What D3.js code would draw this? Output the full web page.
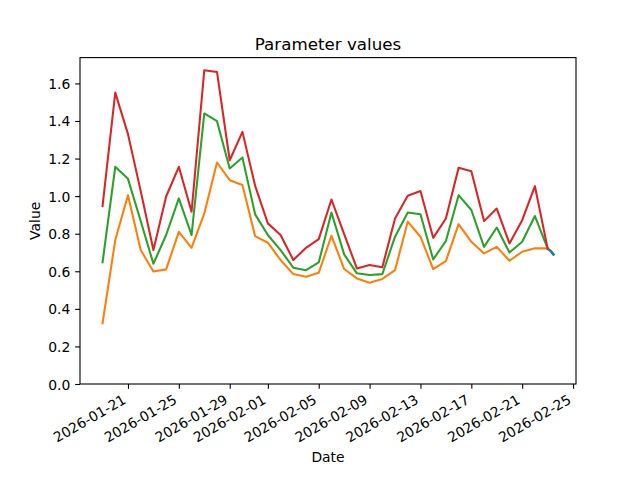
<!DOCTYPE html>
<html>
<head>
<meta charset="utf-8">
<script src="https://cdn.jsdelivr.net/npm/d3@7"></script>
<style>
  html, body { margin: 0; padding: 0; background: #fff; }
  svg { display: block; }
  svg text { font-family: "DejaVu Sans", sans-serif; }
</style>
</head>
<body>
<svg id="chart" width="640" height="480"></svg>
<script>
// ---- Data ----
const startDate = "2026-01-19";   // first daily value
const seriesRed = [0.947, 1.551, 1.330, 1.027, 0.713, 0.998, 1.156, 0.917, 1.670, 1.661,
  1.191, 1.342, 1.055, 0.855, 0.793, 0.660, 0.725, 0.771, 0.982, 0.798,
  0.615, 0.633, 0.621, 0.881, 1.002, 1.027, 0.778, 0.881, 1.151, 1.133,
  0.867, 0.934, 0.748, 0.872, 1.053, 0.722];
const seriesGreen = [0.647, 1.156, 1.092, 0.868, 0.640, 0.793, 0.988, 0.793, 1.440, 1.399,
  1.147, 1.206, 0.903, 0.793, 0.713, 0.619, 0.606, 0.647, 0.913, 0.690,
  0.589, 0.580, 0.585, 0.784, 0.913, 0.904, 0.663, 0.761, 1.005, 0.926,
  0.730, 0.833, 0.700, 0.757, 0.894, 0.722];
const seriesOrange = [0.323, 0.766, 1.005, 0.713, 0.599, 0.610, 0.810, 0.725, 0.908, 1.179,
  1.085, 1.059, 0.787, 0.752, 0.660, 0.585, 0.571, 0.592, 0.789, 0.612,
  0.562, 0.539, 0.559, 0.606, 0.864, 0.784, 0.612, 0.654, 0.851, 0.757,
  0.695, 0.730, 0.656, 0.704, 0.722, 0.722];
// hourly values starting 2026-02-23 00:00
const blueStart = "2026-02-23T00:00:00Z";
const seriesBlue = [0.720, 0.718, 0.716, 0.714, 0.712, 0.710, 0.707, 0.704, 0.700, 0.697, 0.693, 0.689];
const xTickLabels = ["2026-01-21","2026-01-25","2026-01-29","2026-02-01","2026-02-05",
  "2026-02-09","2026-02-13","2026-02-17","2026-02-21","2026-02-25"];
const yTicks = [0.0, 0.2, 0.4, 0.6, 0.8, 1.0, 1.2, 1.4, 1.6];
const titleText = "Parameter values";
const xLabelText = "Date";
const yLabelText = "Value";

// ---- Build records ----
const DAY = 86400000, HOUR = 3600000;
const t0 = new Date(startDate + "T00:00:00Z").getTime();
const daily = arr => arr.map((v, i) => ({ t: new Date(t0 + i * DAY), v }));
const b0 = new Date(blueStart).getTime();
const blueData = seriesBlue.map((v, i) => ({ t: new Date(b0 + i * HOUR), v }));
const series = [
  { data: blueData, color: "#1f77b4", width: 2.6 },
  { data: daily(seriesOrange), color: "#ff7f0e", width: 2.08 },
  { data: daily(seriesGreen), color: "#2ca02c", width: 2.08 },
  { data: daily(seriesRed), color: "#d62728", width: 2.08 }
];

// ---- Layout ----
const FONT = '"DejaVu Sans", sans-serif';
const svg = d3.select("#chart");
const L = 80, R = 576, T = 57.6, B = 384;

const allT = series.flatMap(s => s.data.map(d => d.t.getTime()));
const tmin = d3.min(allT), tmax = d3.max(allT);
const pad = (tmax - tmin) * 0.05;
const x = d3.scaleUtc().domain([new Date(tmin - pad), new Date(tmax + pad)]).range([L, R]);

const allV = series.flatMap(s => s.data.map(d => d.v));
const vmin = d3.min(allV), vmax = d3.max(allV);
const y = d3.scaleLinear().domain([0, vmax + 0.05 * (vmax - vmin)]).range([B, T]);

// clip
svg.append("defs").append("clipPath").attr("id", "clip")
  .append("rect").attr("x", L).attr("y", T).attr("width", R - L).attr("height", B - T);

// lines
const line = d3.line().x(d => x(d.t)).y(d => y(d.v));
const g = svg.append("g").attr("clip-path", "url(#clip)");
series.forEach(s => {
  g.append("path").datum(s.data)
    .attr("d", line)
    .attr("fill", "none")
    .attr("stroke", s.color)
    .attr("stroke-width", s.width)
    .attr("stroke-linejoin", "round")
    .attr("stroke-linecap", "square");
});

// axes
const xTickDates = xTickLabels.map(s => new Date(s + "T00:00:00Z"));
const xAxis = d3.axisBottom(x).tickValues(xTickDates).tickSize(4.86).tickPadding(0)
  .tickFormat(d3.utcFormat("%Y-%m-%d"));
const gx = svg.append("g").attr("transform", `translate(0,${B})`).call(xAxis)
  .attr("font-family", FONT).attr("font-size", 13.9);
gx.select(".domain").remove();
gx.selectAll(".tick line").attr("stroke", "#000").attr("stroke-width", 1.1);
gx.selectAll(".tick text")
  .attr("fill", "#000")
  .attr("text-anchor", "end")
  .attr("dy", null)
  .attr("y", null)
  .attr("transform", "translate(-1.5,18.5) rotate(-30)");

const yAxis = d3.axisLeft(y).tickValues(yTicks).tickSize(4.86).tickPadding(4.86)
  .tickFormat(d3.format(".1f"));
const gy = svg.append("g").attr("transform", `translate(${L},0)`).call(yAxis)
  .attr("font-family", FONT).attr("font-size", 13.9);
gy.select(".domain").remove();
gy.selectAll(".tick line").attr("stroke", "#000").attr("stroke-width", 1.1);
gy.selectAll(".tick text").attr("fill", "#000").attr("dy", "0.36em");

// frame
svg.append("rect").attr("x", L).attr("y", T).attr("width", R - L).attr("height", B - T)
  .attr("fill", "none").attr("stroke", "#000").attr("stroke-width", 1.1);

// labels
svg.append("text").attr("x", (L + R) / 2).attr("y", 49.5).attr("text-anchor", "middle")
  .attr("font-family", FONT).attr("font-size", 16.7).attr("fill", "#000").text(titleText);
svg.append("text").attr("x", (L + R) / 2).attr("y", 462).attr("text-anchor", "middle")
  .attr("font-family", FONT).attr("font-size", 13.9).attr("fill", "#000").text(xLabelText);
svg.append("text").attr("transform", `translate(39.5,${(T + B) / 2}) rotate(-90)`)
  .attr("text-anchor", "middle").attr("font-family", FONT).attr("font-size", 13.9)
  .attr("fill", "#000").text(yLabelText);
</script>
</body>
</html>
